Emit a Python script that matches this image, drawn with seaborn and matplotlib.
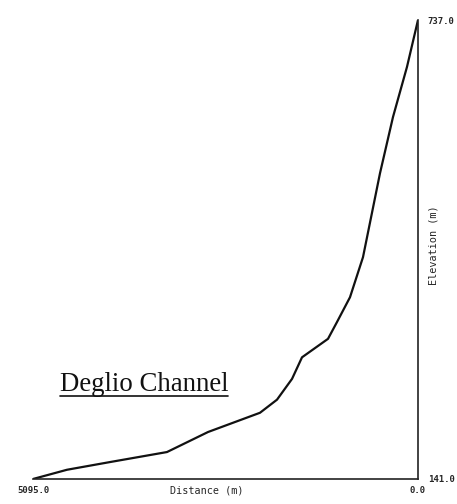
import matplotlib
matplotlib.use("Agg")
import matplotlib.pyplot as plt
import seaborn as sns
import pandas as pd
from matplotlib.lines import Line2D

# Longitudinal profile of the Deglio Channel
distance_m = [5095, 4645, 4076, 3322, 2779, 2091, 1866, 1667, 1535, 1191,
              1071, 900, 728, 503, 331, 146, 0]
elevation_m = [141, 153, 163, 176, 202, 227, 244, 271, 299, 323,
               345, 377, 429, 538, 611, 676, 737]
x_tick_values = [5095, 0]
x_tick_labels = ["5095.0", "0.0"]
y_tick_values = [141, 737]
y_tick_labels = ["141.0", "737.0"]

df = pd.DataFrame({"Distance": distance_m, "Elevation": elevation_m})

sns.set_style("white")
fig = plt.figure(figsize=(4.57, 5.04), dpi=100)
ax = fig.add_axes([33 / 457, 25 / 504, 385 / 457, 459 / 504])

sns.lineplot(data=df, x="Distance", y="Elevation", ax=ax, color="#111111",
             linewidth=1.6, sort=False)

ax.set_xlim(5095, 0)
ax.set_ylim(141, 737)

for side in ["top", "left"]:
    ax.spines[side].set_visible(False)
for side in ["bottom", "right"]:
    ax.spines[side].set_color("#222222")
    ax.spines[side].set_linewidth(1.2)

mono = "DejaVu Sans Mono"
ax.yaxis.tick_right()
ax.yaxis.set_label_position("right")
ax.set_xticks(x_tick_values)
ax.set_xticklabels(x_tick_labels, fontfamily=mono, fontsize=6.5, fontweight="bold")
ax.set_yticks(y_tick_values)
ax.set_yticklabels(y_tick_labels, fontfamily=mono, fontsize=6.5, fontweight="bold")
ax.tick_params(axis="both", length=0)
ax.tick_params(axis="x", pad=5)
ax.tick_params(axis="y", pad=7)

ax.set_xlabel("Distance (m)", fontfamily=mono, fontsize=7.3)
ax.set_ylabel("Elevation (m)", fontfamily=mono, fontsize=7.3)
ax.xaxis.set_label_coords(0.452, -0.014)
ax.yaxis.set_label_coords(1.026, 0.51)

# Channel name, underlined
fig.text(60 / 457, 1 - 391 / 504, "Deglio Channel", fontfamily="Liberation Serif",
         fontsize=19.3, color="#111111", ha="left", va="baseline")
fig.add_artist(Line2D([60 / 457, 228 / 457], [1 - 396 / 504, 1 - 396 / 504],
                      color="#111111", linewidth=1.2, transform=fig.transFigure))

fig.savefig("out.png", dpi=100)
